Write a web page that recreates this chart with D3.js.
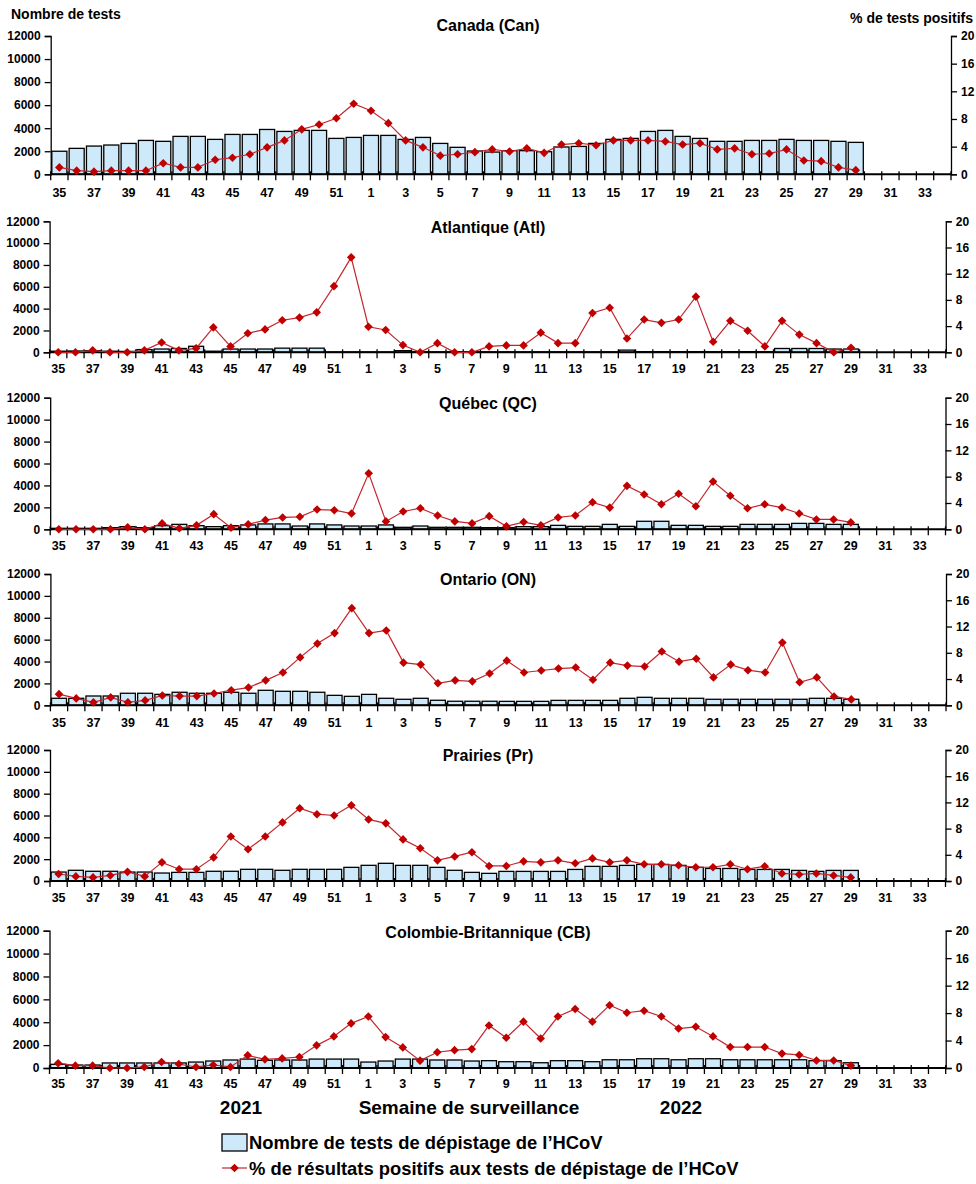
<!DOCTYPE html>
<html><head><meta charset="utf-8">
<script src="https://cdn.jsdelivr.net/npm/d3@7"></script>
<style>
body{margin:0;background:#fff;}
text{font-family:"Liberation Sans",Arial,sans-serif;font-weight:bold;fill:#000;}
</style></head>
<body>
<svg id="chart" width="976" height="1184"></svg>
<script>
// ---------- DATA ----------
const weeks = ["35","36","37","38","39","40","41","42","43","44","45","46","47","48","49","50","51","52",
  "1","2","3","4","5","6","7","8","9","10","11","12","13","14","15","16","17","18","19","20",
  "21","22","23","24","25","26","27","28","29","30","31","32","33","34"];
const regionTitles = ["Canada (Can)","Atlantique (Atl)","Québec (QC)","Ontario (ON)","Prairies (Pr)","Colombie-Britannique (CB)"];
const leftTicks = [0,2000,4000,6000,8000,10000,12000];
const rightTicks = [0,4,8,12,16,20];

const testsCan = [2000,2250,2450,2540,2680,2940,2860,3290,3290,3030,3460,3460,3890,3720,3810,3810,3115,3200,
  3375,3375,3030,3200,2680,2340,2020,1930,2050,2050,1960,2370,2420,2680,3030,3115,3720,3810,3290,3115,
  2860,2860,2940,2940,3030,2940,2940,2860,2770];
const pctCan = [1.0,0.53,0.38,0.53,0.53,0.53,1.6,1.0,1.0,2.1,2.4,2.9,3.9,4.9,6.5,7.2,8.1,10.2,
  9.2,7.4,4.9,3.9,2.7,2.9,3.2,3.6,3.3,3.75,3.1,4.3,4.5,4.2,4.9,4.9,4.9,4.75,4.3,4.5,
  3.6,3.75,2.9,3.0,3.6,2.0,1.9,1.0,0.6];

const testsAtl = [100,120,150,100,80,250,300,350,550,100,300,300,300,380,380,380,30,30,
  30,30,150,40,40,40,40,40,40,40,40,40,40,40,40,200,60,60,60,60,
  60,60,60,60,350,350,350,300,300];
const pctAtl = [0,0,0.3,0,0,0.3,1.5,0.3,0.6,3.8,0.9,2.9,3.5,4.9,5.3,6.1,10.1,14.5,
  3.9,3.4,1.1,0,1.4,0,0,0.9,1.05,1.05,3.0,1.4,1.4,6.0,6.8,2.1,5.0,4.5,5.0,8.5,
  1.6,4.8,3.3,0.9,4.8,2.7,1.4,0,0.7];

const testsQC = [90,90,90,150,240,150,330,450,330,240,330,400,490,490,300,490,400,300,
  300,400,180,300,180,180,180,150,150,240,240,360,270,270,450,270,730,730,360,360,
  270,270,450,450,450,540,540,450,450];
const pctQC = [0,0,0,0,0.3,0,0.9,0.15,0.6,2.3,0.25,0.75,1.4,1.8,1.9,3.0,2.9,2.4,
  8.5,1.2,2.7,3.2,2.1,1.2,0.9,2.0,0.45,1.1,0.6,1.8,2.1,4.1,3.3,6.6,5.3,3.8,5.4,3.5,
  7.25,5.1,3.2,3.8,3.3,2.4,1.5,1.5,1.05];

const testsON = [640,640,850,850,1100,1100,1000,1190,1100,1100,1190,1100,1370,1280,1280,1190,910,820,
  1000,640,550,640,460,370,370,370,360,360,360,450,450,450,450,640,730,640,640,640,
  550,550,550,550,550,550,640,640,550];
const pctON = [1.7,1.05,0.45,1.2,0.45,0.75,1.5,1.4,1.4,1.8,2.3,2.7,3.8,5.0,7.3,9.4,11.0,14.8,
  11.0,11.4,6.5,6.2,3.35,3.8,3.65,4.85,6.8,5.0,5.3,5.6,5.75,3.9,6.5,6.05,5.9,8.2,6.65,7.1,
  4.25,6.2,5.35,5.0,9.55,3.5,4.25,1.35,0.9];

const testsPr = [820,980,890,890,820,820,730,790,790,890,890,1070,1070,980,1070,1070,1070,1250,
  1435,1620,1435,1435,1250,980,790,700,880,880,880,880,1060,1340,1340,1430,1520,1520,1430,1250,
  1150,1150,1060,1060,1060,970,880,970,970];
const pctPr = [1.07,0.7,0.55,0.85,1.4,0.7,2.85,1.8,1.8,3.6,6.8,4.85,6.8,8.95,11.1,10.2,10.0,11.55,
  9.4,8.8,6.35,5.0,3.15,3.75,4.4,2.3,2.3,3.0,2.85,3.15,2.7,3.45,2.85,3.15,2.55,2.55,2.4,2.1,
  2.1,2.55,1.8,2.25,1.15,1.0,1.15,0.85,0.55];

const testsCB = [320,260,260,440,440,440,440,440,520,610,700,780,670,700,700,780,780,780,
  520,610,780,780,700,700,610,640,550,550,460,640,640,550,720,720,810,810,720,810,
  810,720,720,720,720,720,640,640,460];
const pctCB = [0.7,0.34,0.34,0,0,0.15,0.87,0.58,0.15,0.44,0.15,1.84,1.26,1.4,1.6,3.3,4.6,6.5,
  7.5,4.5,3.0,1.07,2.3,2.6,2.75,6.2,4.4,6.75,4.3,7.5,8.6,6.75,9.15,8.05,8.35,7.5,5.75,6.0,
  4.6,3.05,3.05,3.05,2.1,1.9,1.1,1.1,0.35];

const testsSeries = [testsCan,testsAtl,testsQC,testsON,testsPr,testsCB];
const pctSeries = [pctCan,pctAtl,pctQC,pctON,pctPr,pctCB];

// ---------- LAYOUT ----------
const layout = [
  {top:36,   bottom:174.3, left:50.7, right:951,   titleY:31,  xlabY:197},
  {top:221.3,bottom:352.3, left:49.6, right:945.8, titleY:233, xlabY:373},
  {top:397.7,bottom:529.3, left:50.2, right:945.5, titleY:409, xlabY:550},
  {top:574,  bottom:705.3, left:50.4, right:946,   titleY:585, xlabY:727},
  {top:750,  bottom:881,   left:50,   right:945.5, titleY:761, xlabY:902},
  {top:930.7,bottom:1068,  left:49.5, right:945.7, titleY:938, xlabY:1088}
];
const barFill = "#cde9fa";
const lineColor = "#c4262e";
const markColor = "#c00000";

const svg = d3.select("#chart");

function diamond(r){ return `M0,${-r}L${r},0L0,${r}L${-r},0Z`; }

layout.forEach((L,pi)=>{
  const g = svg.append("g");
  const x = d3.scaleBand().domain(weeks).range([L.left,L.right]).paddingInner(0.13).paddingOuter(0.065);
  const step = (L.right-L.left)/weeks.length;
  const yL = d3.scaleLinear().domain([0,12000]).range([L.bottom,L.top]);
  const yR = d3.scaleLinear().domain([0,20]).range([L.bottom,L.top]);
  const tests = testsSeries[pi], pct = pctSeries[pi];
  const dataWeeks = weeks.slice(0,tests.length);

  // bars
  g.selectAll("rect.bar").data(tests).enter().append("rect")
    .attr("x",(d,i)=>x(dataWeeks[i]))
    .attr("width",x.bandwidth())
    .attr("y",d=>yL(d))
    .attr("height",d=>yL(0)-yL(d))
    .attr("fill",barFill).attr("stroke","#000").attr("stroke-width",1.3);

  // left axis
  const axL = d3.axisLeft(yL).tickValues(leftTicks).tickSize(6).tickPadding(4).tickFormat(d3.format("d"));
  const gl = g.append("g").attr("transform",`translate(${L.left},0)`).call(axL);
  gl.select(".domain").attr("stroke","#000").attr("stroke-width",1.3);
  gl.selectAll(".tick line").attr("stroke","#000").attr("stroke-width",1.3);
  gl.selectAll(".tick text").attr("font-size",12).attr("font-family","Liberation Sans, Arial").attr("font-weight","bold").attr("fill","#000");

  // right axis
  const axR = d3.axisRight(yR).tickValues(rightTicks).tickSize(6).tickPadding(4);
  const gr = g.append("g").attr("transform",`translate(${L.right},0)`).call(axR);
  gr.select(".domain").attr("stroke","#000").attr("stroke-width",1.3);
  gr.selectAll(".tick line").attr("stroke","#000").attr("stroke-width",1.3);
  gr.selectAll(".tick text").attr("font-size",12).attr("font-family","Liberation Sans, Arial").attr("font-weight","bold").attr("fill","#000");

  // x axis line
  g.append("line").attr("x1",L.left).attr("x2",L.right).attr("y1",L.bottom).attr("y2",L.bottom)
    .attr("stroke","#000").attr("stroke-width",2);
  // x ticks at category boundaries
  g.selectAll("line.xt").data(d3.range(weeks.length+1)).enter().append("line")
    .attr("x1",i=>L.left+i*step).attr("x2",i=>L.left+i*step)
    .attr("y1",L.bottom-3).attr("y2",L.bottom+6)
    .attr("stroke","#000").attr("stroke-width",1.3);
  // x labels
  g.selectAll("text.xl").data(weeks.filter((w,i)=>i%2===0)).enter().append("text")
    .attr("x",w=>x(w)+x.bandwidth()/2).attr("y",L.xlabY)
    .attr("text-anchor","middle").attr("font-size",12.5).text(w=>w);

  // line
  const line = d3.line().x((d,i)=>x(dataWeeks[i])+x.bandwidth()/2).y(d=>yR(d));
  g.append("path").datum(pct).attr("d",line).attr("fill","none").attr("stroke",lineColor).attr("stroke-width",1.2);
  g.selectAll("path.mk").data(pct).enter().append("path")
    .attr("d",diamond(4.3))
    .attr("transform",(d,i)=>`translate(${x(dataWeeks[i])+x.bandwidth()/2},${yR(d)})`)
    .attr("fill",markColor);

  // title
  g.append("text").attr("x",488).attr("y",L.titleY).attr("text-anchor","middle").attr("font-size",16).text(regionTitles[pi]);
});

// headers
svg.append("text").attr("x",11).attr("y",19).attr("font-size",14).text("Nombre de tests");
svg.append("text").attr("x",973).attr("y",23).attr("text-anchor","end").attr("font-size",14).text("%  de tests positifs");

// bottom labels
svg.append("text").attr("x",241).attr("y",1114).attr("text-anchor","middle").attr("font-size",19).text("2021");
svg.append("text").attr("x",469).attr("y",1114).attr("text-anchor","middle").attr("font-size",19).text("Semaine de surveillance");
svg.append("text").attr("x",681).attr("y",1114).attr("text-anchor","middle").attr("font-size",19).text("2022");

// legend
svg.append("rect").attr("x",222).attr("y",1134).attr("width",25).attr("height",17)
  .attr("fill",barFill).attr("stroke","#000").attr("stroke-width",1.3);
svg.append("text").attr("x",249).attr("y",1149).attr("font-size",18.4).text("Nombre de tests de dépistage de l’HCoV");
svg.append("line").attr("x1",222).attr("x2",247).attr("y1",1168).attr("y2",1168).attr("stroke",lineColor).attr("stroke-width",1.2);
svg.append("path").attr("d",diamond(4.3)).attr("transform","translate(234.5,1168)").attr("fill",markColor);
svg.append("text").attr("x",249).attr("y",1175).attr("font-size",18.4).text("% de résultats positifs aux tests de dépistage de l’HCoV");
</script>
</body></html>
